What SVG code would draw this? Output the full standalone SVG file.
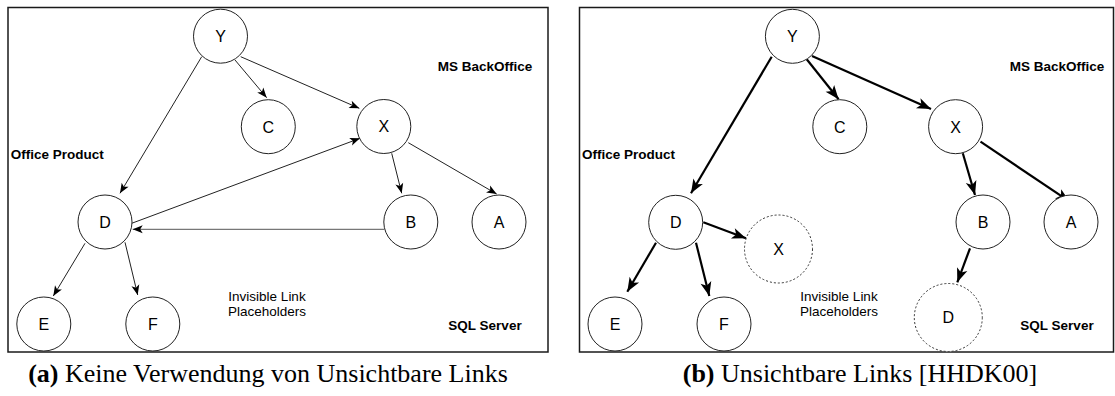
<svg xmlns="http://www.w3.org/2000/svg" width="1115" height="396" viewBox="0 0 1115 396">
<defs>
<style>
.frame{fill:none;stroke:#1a1a1a;stroke-width:1.5}
.node circle{fill:#fff;stroke:#222;stroke-width:1}
.node.ph circle{stroke:#333;stroke-dasharray:2 2}
.lbl{font-family:"Liberation Sans",Arial,sans-serif;font-size:16px;fill:#000;text-anchor:middle}
.bold{font-family:"Liberation Sans",Arial,sans-serif;font-size:13.5px;font-weight:bold;fill:#000}
.note{font-family:"Liberation Sans",Arial,sans-serif;font-size:13.5px;fill:#000;text-anchor:middle}
.cap{font-family:"Liberation Serif","Times New Roman",serif;font-size:26px;fill:#000;text-anchor:middle}
.thin{stroke:#222;stroke-width:1;fill:none;marker-end:url(#ah)}
.thick{stroke:#000;stroke-width:2.2;fill:none;marker-end:url(#ahb)}
</style>
<marker id="ah" markerUnits="userSpaceOnUse" markerWidth="12" markerHeight="10" refX="10" refY="4" orient="auto" overflow="visible">
<path d="M0,0 L10,4 L0,8 L2.5,4 Z" fill="#000"/>
</marker>
<marker id="ahb" markerUnits="userSpaceOnUse" markerWidth="16" markerHeight="14" refX="14" refY="5.5" orient="auto" overflow="visible">
<path d="M0,0 L14,5.5 L0,11 L3.5,5.5 Z" fill="#000"/>
</marker>
</defs>

<!-- Panel (a) -->
<rect class="frame" x="8" y="7.5" width="540" height="344.5"/>
<g id="edges-a">
<line class="thin" x1="201.7" y1="56.7" x2="120" y2="193.3"/>
<line class="thin" x1="235" y1="60" x2="266.7" y2="97.7"/>
<line class="thin" x1="240.7" y1="56.7" x2="359.3" y2="108.3"/>
<line class="thin" x1="131.7" y1="223.3" x2="360" y2="138.3"/>
<line class="thin" x1="384.3" y1="229.3" x2="132.7" y2="229.3" style="stroke:#555"/>
<line class="thin" x1="391.7" y1="153.3" x2="401.7" y2="193.3"/>
<line class="thin" x1="408.3" y1="142.7" x2="496.7" y2="194"/>
<line class="thin" x1="85" y1="243.3" x2="53.3" y2="296"/>
<line class="thin" x1="125" y1="242.3" x2="137.7" y2="295"/>
</g>
<g id="a-Y" class="node"><circle cx="220.5" cy="36.2" r="27"/><text class="lbl" x="220.5" y="42">Y</text></g>
<g id="a-C" class="node"><circle cx="268.3" cy="126.7" r="27"/><text class="lbl" x="268.3" y="132.5">C</text></g>
<g id="a-X" class="node"><circle cx="383.8" cy="126.5" r="27"/><text class="lbl" x="383.8" y="132.3">X</text></g>
<g id="a-D" class="node"><circle cx="105" cy="222" r="27"/><text class="lbl" x="105" y="227.8">D</text></g>
<g id="a-B" class="node"><circle cx="410.8" cy="222" r="27"/><text class="lbl" x="410.8" y="227.8">B</text></g>
<g id="a-A" class="node"><circle cx="499" cy="222" r="27"/><text class="lbl" x="499" y="227.8">A</text></g>
<g id="a-E" class="node"><circle cx="43.8" cy="324" r="27"/><text class="lbl" x="43.8" y="329.8">E</text></g>
<g id="a-F" class="node"><circle cx="152.8" cy="324" r="27"/><text class="lbl" x="152.8" y="329.8">F</text></g>
<text class="bold" x="485" y="71" text-anchor="middle">MS BackOffice</text>
<text class="bold" x="10.7" y="159">Office Product</text>
<text class="bold" x="485" y="329.5" text-anchor="middle">SQL Server</text>
<text class="note" x="267" y="301">Invisible Link</text>
<text class="note" x="267" y="316">Placeholders</text>
<text class="cap" x="268" y="382"><tspan font-weight="bold">(a)</tspan> Keine Verwendung von Unsichtbare Links</text>

<!-- Panel (b) -->
<rect class="frame" x="579.5" y="7.5" width="534" height="344.5"/>
<g id="edges-b">
<line class="thick" x1="771.7" y1="56.7" x2="691" y2="193.3"/>
<line class="thick" x1="806.7" y1="59.3" x2="838.6" y2="99.3"/>
<line class="thick" x1="812" y1="56" x2="931" y2="109"/>
<line class="thick" x1="962.8" y1="153.3" x2="975" y2="195"/>
<line class="thick" x1="980.5" y1="141.7" x2="1069.7" y2="201.7"/>
<line class="thick" x1="703.3" y1="222.3" x2="746" y2="238.3"/>
<line class="thick" x1="656" y1="242.7" x2="627.3" y2="291.7"/>
<line class="thick" x1="696" y1="242.7" x2="709.3" y2="296"/>
<line class="thick" x1="970" y1="248.3" x2="957.3" y2="282.3"/>
</g>
<g id="b-Y" class="node"><circle cx="792.4" cy="36.3" r="27"/><text class="lbl" x="792.4" y="42">Y</text></g>
<g id="b-C" class="node"><circle cx="839.8" cy="126.7" r="27"/><text class="lbl" x="839.8" y="132.5">C</text></g>
<g id="b-X" class="node"><circle cx="955.6" cy="126.7" r="27"/><text class="lbl" x="955.6" y="132.5">X</text></g>
<g id="b-D" class="node"><circle cx="675.7" cy="222.3" r="27"/><text class="lbl" x="675.7" y="228">D</text></g>
<g id="b-X2" class="node ph"><circle cx="778.5" cy="249" r="34"/><text class="lbl" x="778.5" y="254.8">X</text></g>
<g id="b-B" class="node"><circle cx="983" cy="222" r="27"/><text class="lbl" x="983" y="227.8">B</text></g>
<g id="b-A" class="node"><circle cx="1071" cy="222" r="27"/><text class="lbl" x="1071" y="227.8">A</text></g>
<g id="b-D2" class="node ph"><circle cx="948.3" cy="317.5" r="34"/><text class="lbl" x="948.3" y="323.3">D</text></g>
<g id="b-E" class="node"><circle cx="615" cy="324" r="27"/><text class="lbl" x="615" y="329.8">E</text></g>
<g id="b-F" class="node"><circle cx="724" cy="324" r="27"/><text class="lbl" x="724" y="329.8">F</text></g>
<text class="bold" x="1057" y="71" text-anchor="middle">MS BackOffice</text>
<text class="bold" x="582" y="159">Office Product</text>
<text class="bold" x="1057" y="329.5" text-anchor="middle">SQL Server</text>
<text class="note" x="839" y="301">Invisible Link</text>
<text class="note" x="839" y="316">Placeholders</text>
<text class="cap" x="860" y="382"><tspan font-weight="bold">(b)</tspan> Unsichtbare Links [HHDK00]</text>
</svg>
